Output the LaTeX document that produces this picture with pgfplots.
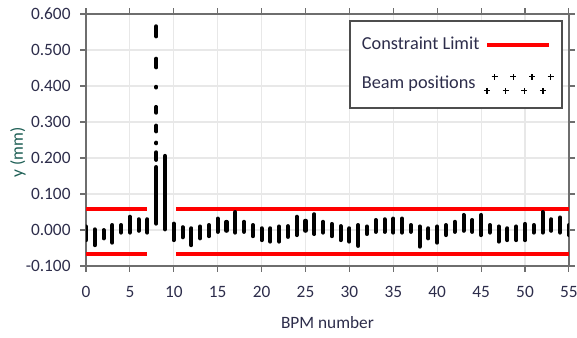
\documentclass[border=0pt]{standalone}
\usepackage{fontspec}
\setmainfont{Carlito}
\usepackage{pgfplots}
\pgfplotsset{compat=1.18}
\definecolor{tickc}{RGB}{45,45,75}
\definecolor{ylab}{RGB}{30,95,85}
\definecolor{gridc}{RGB}{232,232,232}
\definecolor{framec}{RGB}{110,110,110}
\begin{document}
\begin{tikzpicture}
\begin{axis}[
  scale only axis, width=251pt, height=131pt,
  xmin=0, xmax=55, ymin=-0.1, ymax=0.6,
  xtick={0,5,...,55}, ytick={-0.1,0,0.1,0.2,0.3,0.4,0.5,0.6},
  grid=major, major grid style={gridc, line width=0.6pt},
  tick align=outside, major tick length=3pt,
  tick style={framec, line width=0.6pt},
  axis line style={framec, line width=0.9pt},
  yticklabel style={/pgf/number format/fixed, /pgf/number format/fixed zerofill, /pgf/number format/precision=3, xshift=-1.5pt},
  /pgf/number format/assume math mode=true,
  tick label style={font=\fontsize{9}{10}\selectfont, text=tickc},
  xticklabel style={yshift=-4pt},
  xlabel={BPM number}, ylabel={y (mm)},
  xlabel style={at={(axis description cs:0.5,-0.226)}, anchor=center, font=\fontsize{9}{11}\selectfont, text=tickc},
  ylabel style={at={(axis description cs:-0.141,0.45)}, anchor=center, font=\fontsize{9}{11}\selectfont, text=ylab},
  unbounded coords=jump,
  legend style={at={(0.988,0.976)}, anchor=north east, draw=framec!70!black, line width=1pt, fill=white,
    font=\fontsize{9.5}{11}\selectfont, text=tickc, row sep=8pt, inner xsep=4pt, inner ysep=6.5pt},
  legend cell align=left, legend plot pos=right,
]
\addplot[red, line width=2.1pt,
  legend image code/.code={\draw[red,line width=2.1pt] (0pt,0pt) -- (32pt,0pt);}]
  coordinates {(0,0.0575)(6.9,0.0575)(8,nan)(10.3,0.0575)(55,0.0575)(55,nan)
               (0,-0.066)(6.9,-0.066)(8,nan)(10.3,-0.066)(55,-0.066)};
\addlegendentry{Constraint Limit}
\addplot[black, line width=2.1pt, line cap=round,
  legend image code/.code={
    \foreach \i in {0,1,2,3}{
      \draw[black,line width=0.7pt,line cap=butt] (\i*9.7pt+4pt,3.6pt) ++(-1.6pt,0pt) -- ++(3.2pt,0pt) ++(-1.6pt,-1.6pt) -- ++(0pt,3.2pt);
      \draw[black,line width=0.7pt,line cap=butt] (\i*9.7pt,-3.6pt) ++(-1.6pt,0pt) -- ++(3.2pt,0pt) ++(-1.6pt,-1.6pt) -- ++(0pt,3.2pt);
    }}]
  coordinates {
(0,0.010)(0,-0.028)(0,nan)
(1,0.002)(1,-0.042)(1,nan)
(2,0.000)(2,-0.023)(2,nan)
(3,0.014)(3,-0.035)(3,nan)
(4,0.014)(4,-0.007)(4,nan)
(5,0.037)(5,-0.007)(5,nan)
(6,0.030)(6,-0.002)(6,nan)
(7,0.030)(7,-0.007)(7,nan)
(8,0.566)(8,0.538)(8,nan)
(8,0.476)(8,0.452)(8,nan)
(8,0.398)(8,0.396)(8,nan)
(8,0.342)(8,0.326)(8,nan)
(8,0.290)(8,0.274)(8,nan)
(8,0.243)(8,0.241)(8,nan)
(8,0.216)(8,0.195)(8,nan)
(8,0.175)(8,0.018)(8,nan)
(9,0.206)(9,0.002)(9,nan)
(10,0.018)(10,-0.028)(10,nan)
(11,0.008)(11,-0.020)(11,nan)
(12,0.005)(12,-0.042)(12,nan)
(13,0.010)(13,-0.023)(13,nan)
(14,0.014)(14,-0.017)(14,nan)
(15,0.032)(15,-0.005)(15,nan)
(16,0.023)(16,-0.002)(16,nan)
(17,0.050)(17,-0.007)(17,nan)
(18,0.023)(18,-0.005)(18,nan)
(19,0.014)(19,-0.017)(19,nan)
(20,0.005)(20,-0.028)(20,nan)
(21,0.005)(21,-0.032)(21,nan)
(22,0.010)(22,-0.032)(22,nan)
(23,0.011)(23,-0.019)(23,nan)
(24,0.037)(24,-0.014)(24,nan)
(25,0.026)(25,-0.002)(25,nan)
(26,0.044)(26,-0.011)(26,nan)
(27,0.023)(27,-0.007)(27,nan)
(28,0.017)(28,-0.017)(28,nan)
(29,0.011)(29,-0.028)(29,nan)
(30,0.005)(30,-0.032)(30,nan)
(31,0.014)(31,-0.044)(31,nan)
(32,0.010)(32,-0.011)(32,nan)
(33,0.028)(33,-0.005)(33,nan)
(34,0.030)(34,-0.005)(34,nan)
(35,0.032)(35,-0.007)(35,nan)
(36,0.032)(36,-0.007)(36,nan)
(37,0.014)(37,-0.005)(37,nan)
(38,0.010)(38,-0.046)(38,nan)
(39,0.005)(39,-0.023)(39,nan)
(40,0.010)(40,-0.035)(40,nan)
(41,0.014)(41,-0.014)(41,nan)
(42,0.023)(42,-0.005)(42,nan)
(43,0.042)(43,-0.002)(43,nan)
(44,0.028)(44,-0.005)(44,nan)
(45,0.042)(45,-0.014)(45,nan)
(46,0.014)(46,-0.007)(46,nan)
(47,0.010)(47,-0.032)(47,nan)
(48,0.005)(48,-0.028)(48,nan)
(49,0.010)(49,-0.028)(49,nan)
(50,0.017)(50,-0.028)(50,nan)
(51,0.014)(51,-0.007)(51,nan)
(52,0.050)(52,-0.007)(52,nan)
(53,0.030)(53,-0.002)(53,nan)
(54,0.035)(54,-0.007)(54,nan)
(55,0.014)(55,-0.014)
};
\addlegendentry{Beam positions}
\coordinate (sw) at (rel axis cs:0,0);
\coordinate (ne) at (rel axis cs:1,1);
\end{axis}
\path (sw) ++(-44.7pt,-36.9pt) coordinate (a);
\path (ne) ++(4.2pt,7.3pt) coordinate (b);
\pgfresetboundingbox
\path[use as bounding box] (a) rectangle (b);
\end{tikzpicture}
\end{document}
